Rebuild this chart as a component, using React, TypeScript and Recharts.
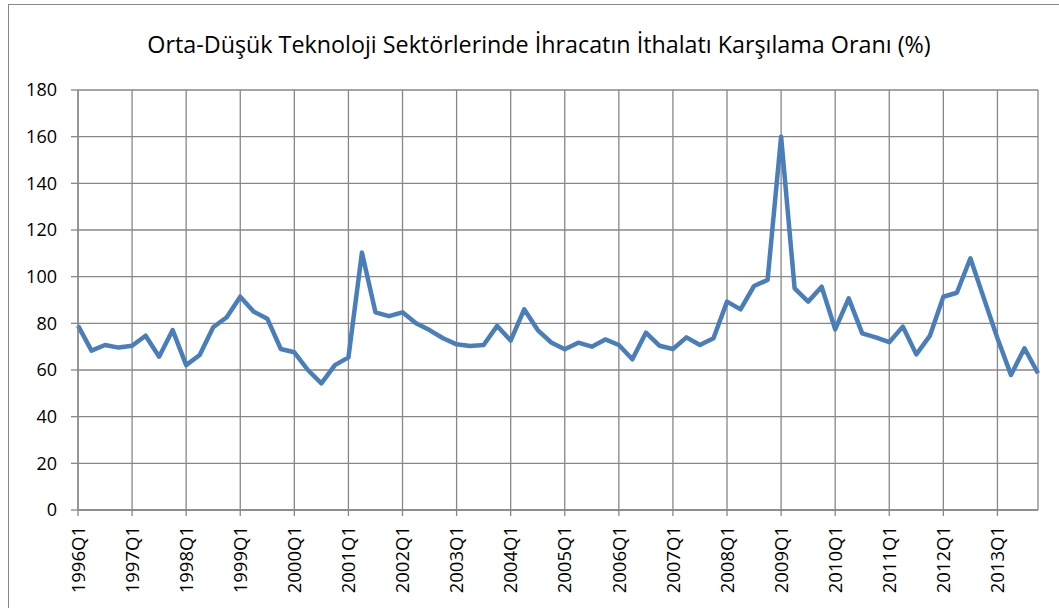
import { LineChart, Line, XAxis, YAxis, CartesianGrid } from 'recharts'

const title = 'Orta-Düşük Teknoloji Sektörlerinde İhracatın İthalatı Karşılama Oranı (%)'

const years = [1996, 1997, 1998, 1999, 2000, 2001, 2002, 2003, 2004, 2005, 2006, 2007, 2008, 2009, 2010, 2011, 2012, 2013]
const quarters = ['Q1', 'Q2', 'Q3', 'Q4']

// one value per quarter, 1996Q1 .. 2013Q4
const ratio = [
  79, 68.3, 70.7, 69.6,
  70.4, 74.7, 65.7, 77.1,
  62.1, 66.4, 78.3, 82.6,
  91.4, 85, 82, 69,
  67.6, 60, 54.3, 62.1,
  65.4, 110.3, 84.7, 83.1,
  84.7, 80, 77.1, 73.6,
  71, 70.3, 70.7, 78.9,
  72.6, 86, 77.1, 71.8,
  68.9, 71.7, 70, 73.1,
  70.7, 64.6, 76, 70.4,
  69, 74, 70.7, 73.6,
  89.3, 86, 96, 98.6,
  160, 95, 89.3, 95.7,
  77.4, 90.7, 75.7, 74,
  71.9, 78.6, 66.7, 74.6,
  91.4, 93.1, 107.9, 90.7,
  73.6, 57.9, 69.3, 58.6,
]

const yTicks = [0, 20, 40, 60, 80, 100, 120, 140, 160, 180]

const periods = years.flatMap((y) => quarters.map((q) => `${y}${q}`))
const xTicks = years.map((y) => `${y}Q1`)
const data = periods.map((p, i) => ({ period: p, ratio: ratio[i] }))

const FONT = '"Open Sans", sans-serif'
const GRID = '#878787'

function XTick({ x, y, payload }: any) {
  return (
    <text x={x} y={y} transform={`rotate(-90, ${x}, ${y})`} textAnchor="end" dy="0.36em" dx={-8}
      fontFamily={FONT} fontSize={18.5} fill="#000">{payload.value}</text>
  )
}

function YTick({ y, payload }: any) {
  return (
    <text x={57} y={y} textAnchor="end" dy="0.36em" fontFamily={FONT} fontSize={18} fill="#000">{payload.value}</text>
  )
}

export default function App() {
  return (
    <div style={{ position: 'absolute', left: 0, top: 0, width: 1059, height: 608, background: '#fff', overflow: 'hidden' }}>
      <div style={{ position: 'absolute', left: 8, top: 4, width: 1051, height: 604, borderLeft: '1.5px solid #888', borderTop: '1.5px solid #888' }} />
      <div style={{ position: 'absolute', left: 0, top: 28, width: 1078, textAlign: 'center', fontFamily: FONT, fontSize: 23.3, lineHeight: '32px', color: '#000' }}>
        {title}
      </div>
      <div style={{ position: 'absolute', left: 0, top: 0 }}>
        <LineChart width={1059} height={608} data={data} margin={{ top: 90, right: 21, bottom: 0, left: 0 }}>
          <CartesianGrid stroke={GRID} strokeWidth={1.3} />
          <XAxis dataKey="period" ticks={xTicks} interval={0} height={98} tick={<XTick />}
            axisLine={{ stroke: GRID, strokeWidth: 1.3 }} tickLine={{ stroke: GRID, strokeWidth: 1.3 }} tickSize={6} />
          <YAxis domain={[0, 180]} ticks={yTicks} width={78} tick={<YTick />}
            axisLine={{ stroke: GRID, strokeWidth: 1.3 }} tickLine={{ stroke: GRID, strokeWidth: 1.3 }} tickSize={7} />
          <Line type="linear" dataKey="ratio" stroke="#4a7ebb" strokeWidth={4.5} strokeLinejoin="round"
            dot={false} activeDot={false} isAnimationActive={false} />
        </LineChart>
      </div>
    </div>
  )
}
